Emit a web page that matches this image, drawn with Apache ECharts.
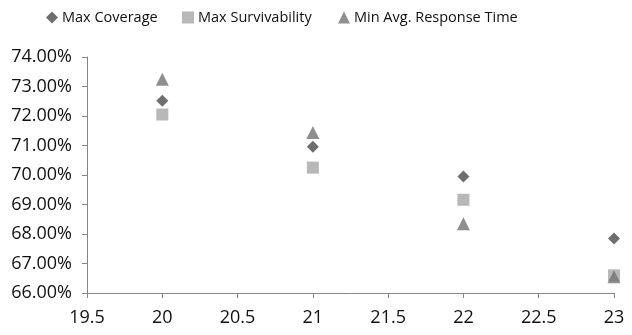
<!DOCTYPE html>
<html>
<head>
<meta charset="utf-8">
<script src="https://cdn.jsdelivr.net/npm/echarts@6/dist/echarts.min.js"></script>
<style>
  html, body { margin: 0; padding: 0; background: #fff; }
  #chart { width: 632px; height: 335px; }
</style>
</head>
<body>
<div id="chart"></div>
<script>
// Budget levels on the x axis
const xValues = [20, 21, 22, 23];

// Objective results per budget (percent)
const maxCoverage = [72.52, 70.96, 69.95, 67.85];
const maxSurvivability = [72.05, 70.25, 69.16, 66.6];
const minAvgResponseTime = [73.25, 71.44, 68.35, 66.55];

const seriesNames = ['Max Coverage', 'Max Survivability', 'Min Avg. Response Time'];
const legendIcons = ['diamond', 'rect', 'triangle'];
const legendLeft = [41, 177, 333];

const font = '"Open Sans", "Noto Sans", sans-serif';
const axisColor = '#868686';
const textColor = '#111111';
const colors = ['#4a4a4a', '#a6a6a6', '#737373'];

function pairs(values) {
  return xValues.map((x, i) => [x, values[i]]);
}

const chart = echarts.init(document.getElementById('chart'), null, { renderer: 'canvas' });

chart.setOption({
  animation: false,
  backgroundColor: '#ffffff',
  color: colors,
  // one legend block per entry so each sits at its own offset
  legend: seriesNames.map((name, i) => ({
    top: 5,
    left: legendLeft[i],
    itemWidth: 12,
    itemHeight: 12,
    itemGap: 0,
    textStyle: { fontFamily: font, fontSize: 14.5, color: textColor, padding: [0, 0, 0, -1] },
    data: [{ name, icon: legendIcons[i] }]
  })),
  grid: { left: 87, right: 18, top: 57, bottom: 42, containLabel: false },
  xAxis: {
    type: 'value',
    min: 19.5,
    max: 23,
    interval: 0.5,
    axisLine: { show: true, lineStyle: { color: axisColor, width: 1 } },
    axisTick: { show: true, length: 5, inside: false, lineStyle: { color: axisColor } },
    splitLine: { show: false },
    axisLabel: {
      fontFamily: font, fontSize: 18, color: textColor, margin: 16,
      showMinLabel: true, showMaxLabel: true
    }
  },
  yAxis: {
    type: 'value',
    min: 66,
    max: 74,
    interval: 1,
    axisLine: { show: true, lineStyle: { color: axisColor, width: 1 } },
    axisTick: { show: true, length: 5, lineStyle: { color: axisColor } },
    splitLine: { show: false },
    axisLabel: {
      fontFamily: font, fontSize: 18, color: textColor, margin: 15,
      formatter: v => v.toFixed(2) + '%'
    }
  },
  series: [
    {
      name: seriesNames[0], type: 'scatter', symbol: 'diamond', symbolSize: 12,
      itemStyle: { color: colors[0] }, data: pairs(maxCoverage)
    },
    {
      name: seriesNames[1], type: 'scatter', symbol: 'rect', symbolSize: 12,
      itemStyle: { color: colors[1] }, data: pairs(maxSurvivability)
    },
    {
      name: seriesNames[2], type: 'scatter', symbol: 'triangle', symbolSize: 13,
      itemStyle: { color: colors[2] }, data: pairs(minAvgResponseTime)
    }
  ]
});
</script>
</body>
</html>
